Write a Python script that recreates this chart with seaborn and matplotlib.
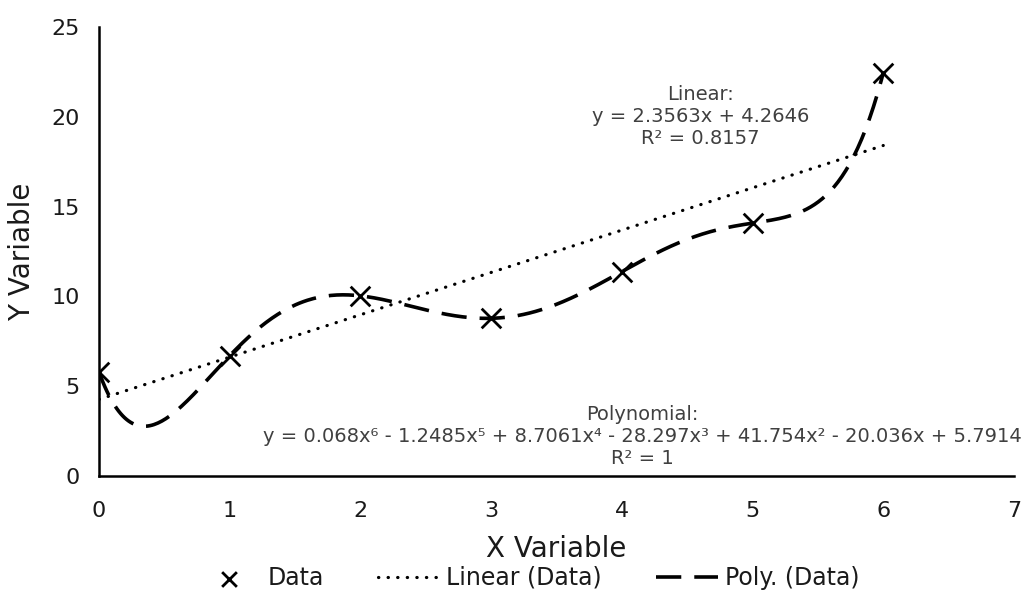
import numpy as np
import pandas as pd
import matplotlib
matplotlib.use("Agg")
import matplotlib.pyplot as plt
import seaborn as sns

# Observations
x_vals = [0, 1, 2, 3, 4, 5, 6]
y_vals = [5.79, 6.70, 10.03, 8.78, 11.38, 14.08, 22.45]

# Linear trendline coefficients (as reported)
lin_slope = 2.3563
lin_intercept = 4.2646

linear_label = "Linear:\ny = 2.3563x + 4.2646\nR² = 0.8157"
poly_label = ("Polynomial:\ny = 0.068x⁶ - 1.2485x⁵ + 8.7061x⁴ - 28.297x³ + 41.754x² - 20.036x + 5.7914\n"
              "R² = 1")

sns.set_theme(style="white")
plt.rcParams["font.family"] = ["DejaVu Sans"]

df = pd.DataFrame({"x": x_vals, "y": y_vals})

# Smooth curves for the two trendlines
xs = np.linspace(0, 6, 400)
poly = np.polyfit(df["x"], df["y"], 6)
curves = pd.DataFrame({
    "x": xs,
    "lin": lin_slope * xs + lin_intercept,
    "poly": np.polyval(poly, xs),
})

fig = plt.figure(figsize=(10.24, 5.94), dpi=100)
ax = fig.add_axes([0.0967, 0.1987, 0.8935, 0.7558])

sns.lineplot(data=curves, x="x", y="lin", ax=ax, color="black", lw=2.3,
             linestyle=(0, (0.1, 2.9)), dash_capstyle="round", label="Linear (Data)")
sns.lineplot(data=curves, x="x", y="poly", ax=ax, color="black", lw=2.6,
             linestyle=(0, (7, 3.6)), label="Poly. (Data)")
sns.scatterplot(data=df, x="x", y="y", ax=ax, marker="x", color="black", s=200,
                linewidth=2.0, label="Data", zorder=5)

ax.set_xlim(0, 7)
ax.set_ylim(0, 25)
ax.set_xticks(range(0, 8))
ax.set_yticks(range(0, 26, 5))
ax.tick_params(axis="x", labelsize=16, length=0, pad=18, labelcolor="#1a1a1a")
ax.tick_params(axis="y", labelsize=16, length=0, pad=14, labelcolor="#1a1a1a")
for s in ["top", "right"]:
    ax.spines[s].set_visible(False)
for s in ["left", "bottom"]:
    ax.spines[s].set_color("black")
    ax.spines[s].set_linewidth(1.8)
ax.set_xlabel("X Variable", fontsize=20, labelpad=10, color="#1a1a1a")
ax.set_ylabel("Y Variable", fontsize=20, labelpad=11, color="#1a1a1a")

ax.text(4.6, 20.0, linear_label, ha="center", va="center", fontsize=14,
        color="#404040", linespacing=1.2)
ax.text(4.16, 2.2, poly_label, ha="center", va="center", fontsize=14,
        color="#404040", linespacing=1.2)

handles, labels = ax.get_legend_handles_labels()
order = [labels.index("Data"), labels.index("Linear (Data)"), labels.index("Poly. (Data)")]
leg = ax.legend([handles[i] for i in order], [labels[i] for i in order],
                loc="center", bbox_to_anchor=(0.47, -0.227), ncol=3, frameon=False,
                fontsize=17, handlelength=2.6, columnspacing=2.3, handletextpad=0.3,
                markerscale=0.75)
for t in leg.get_texts():
    t.set_color("#1a1a1a")

fig.savefig("out.png", dpi=100)
